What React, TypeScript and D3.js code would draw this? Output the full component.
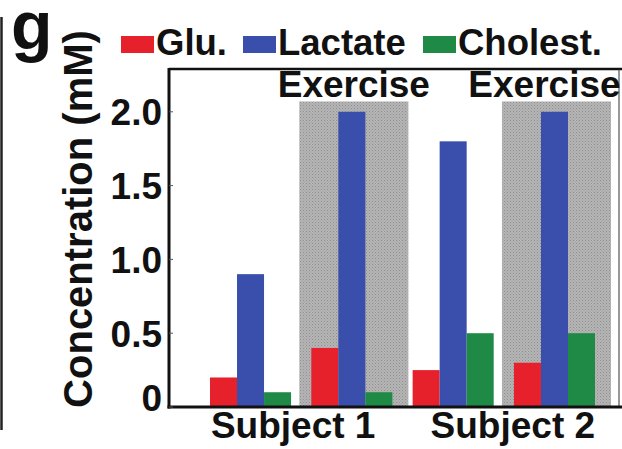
import React from "react";
import * as d3 from "d3";

const groups = ["S1 rest", "S1 exercise", "S2 rest", "S2 exercise"];
const exerciseGroups = ["S1 exercise", "S2 exercise"];
const seriesNames = ["Glu.", "Lactate", "Cholest."];
const seriesColors = ["#e6212b", "#3a4eab", "#1f8a45"];
const gluValues = [0.2, 0.4, 0.25, 0.3];
const lactateValues = [0.9, 2.0, 1.8, 2.0];
const cholValues = [0.1, 0.1, 0.5, 0.5];
const yTicks = [0, 0.5, 1.0, 1.5, 2.0];
const yTickLabels = ["0", "0.5", "1.0", "1.5", "2.0"];
const subjectLabels = ["Subject 1", "Subject 2"];
const exerciseLabel = "Exercise";
const shadeTop = 2.07;

const W = 622;
const H = 449;
const FONT = "'Liberation Sans', Arial, sans-serif";

export default function App() {
  const seriesValues = [gluValues, lactateValues, cholValues];
  const x0 = d3.scaleBand<string>().domain(groups).range([210, 595]).paddingInner(0.2).paddingOuter(0);
  const x1 = d3.scaleBand<string>().domain(seriesNames).range([0, x0.bandwidth()]).padding(0);
  const y = d3.scaleLinear().domain([0, 2.29]).range([407, 69]);

  const axisLeft = 169;
  const axisRight = 619;

  const pairMid = (a: string, b: string) => ((x0(a) as number) + (x0(b) as number) + x0.bandwidth()) / 2;
  const subjectX = [pairMid(groups[0], groups[1]) - 8, pairMid(groups[2], groups[3]) + 9];
  const exerciseX = [
    (x0(exerciseGroups[0]) as number) + x0.bandwidth() / 2 + 2,
    (x0(exerciseGroups[1]) as number) + x0.bandwidth() / 2 - 10,
  ];

  const legendX = [121, 243, 423];

  return (
    <svg width={W} height={H} style={{ position: "absolute", left: 0, top: 0, background: "#fff" }}>
      <defs>
        <pattern id="dots" width="3" height="3" patternUnits="userSpaceOnUse">
          <rect width="3" height="3" fill="#b5b5b5" />
          <rect x="0" y="0" width="1" height="1" fill="#8f8f8f" />
          <rect x="1.5" y="1.5" width="1" height="1" fill="#9a9a9a" />
        </pattern>
      </defs>
      {/* left panel border */}
      <line x1={1.5} x2={1.5} y1={17} y2={430} stroke="#222" strokeWidth={2.5} />
      {/* panel letter */}
      <text x={11} y={49} fontFamily={FONT} fontWeight="bold" fontSize={68} fill="#111">g</text>

      {/* legend */}
      {seriesNames.map((s, i) => (
        <g key={s}>
          <rect x={legendX[i]} y={36} width={33} height={17} fill={seriesColors[i]} />
          <text x={legendX[i] + 35} y={55} fontFamily={FONT} fontWeight="bold" fontSize={36.5} fill="#111">{s}</text>
        </g>
      ))}

      {/* exercise shading */}
      {exerciseGroups.map((g) => (
        <rect
          key={g}
          x={(x0(g) as number) - 12}
          y={y(shadeTop)}
          width={x0.bandwidth() + 28}
          height={y(0) - y(shadeTop)}
          fill="url(#dots)"
        />
      ))}

      {/* bars */}
      {groups.map((g, gi) =>
        seriesNames.map((s, si) => {
          const v = seriesValues[si][gi];
          return (
            <rect
              key={g + s}
              x={(x0(g) as number) + (x1(s) as number)}
              y={y(v)}
              width={x1.bandwidth()}
              height={y(0) - y(v)}
              fill={seriesColors[si]}
            />
          );
        })
      )}

      {/* frame */}
      <line x1={axisLeft} x2={axisRight + 3} y1={69} y2={69} stroke="#111" strokeWidth={2.5} />
      <line x1={axisRight} x2={axisRight} y1={69} y2={407} stroke="#333" strokeWidth={1} />
      <line x1={axisLeft} x2={axisLeft} y1={68} y2={408.5} stroke="#111" strokeWidth={3} />
      <line x1={axisLeft - 1.5} x2={W} y1={407} y2={407} stroke="#111" strokeWidth={3} />

      {/* y ticks and labels */}
      {yTicks.map((t, i) => (
        <g key={t}>
          <line x1={axisLeft} x2={axisLeft + 4} y1={y(t)} y2={y(t)} stroke="#555" strokeWidth={1} />
          <text
            x={162}
            y={y(t)}
            dy={i === 0 ? "0.1em" : "0.36em"}
            textAnchor="end"
            fontFamily={FONT}
            fontWeight="bold"
            fontSize={37}
            fill="#111"
          >
            {yTickLabels[i]}
          </text>
        </g>
      ))}

      {/* y title */}
      <text
        transform={`translate(92, 219) rotate(-90)`}
        textAnchor="middle"
        fontFamily={FONT}
        fontWeight="bold"
        fontSize={40}
        fill="#111"
      >
        Concentration (mM)
      </text>

      {/* exercise labels */}
      {exerciseX.map((xx, i) => (
        <text key={i} x={xx} y={97} textAnchor="middle" fontFamily={FONT} fontWeight="bold" fontSize={37} fill="#111">
          {exerciseLabel}
        </text>
      ))}

      {/* subject labels */}
      {subjectLabels.map((s, i) => (
        <text key={s} x={subjectX[i]} y={438} textAnchor="middle" fontFamily={FONT} fontWeight="bold" fontSize={37} fill="#111">
          {s}
        </text>
      ))}
    </svg>
  );
}
